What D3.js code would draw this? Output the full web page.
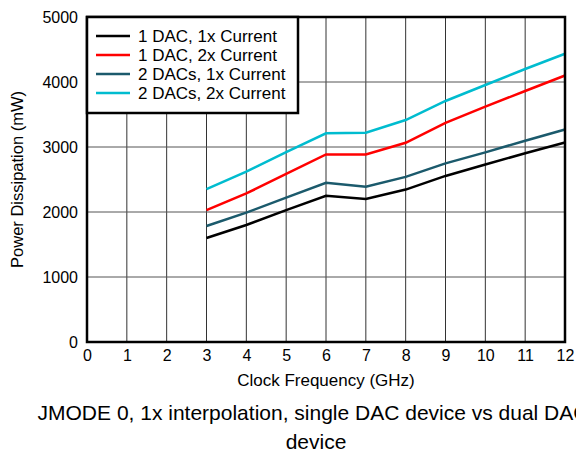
<!DOCTYPE html>
<html>
<head>
<meta charset="utf-8">
<title>Power Dissipation vs Clock Frequency</title>
<style>
  body { margin: 0; background: #fff; }
  text { font-family: "Liberation Sans", Arial, sans-serif; }
</style>
</head>
<body>
<div id="container"></div>
<script src="https://d3js.org/d3.v7.min.js"></script>
<script>
// data
var clockGHz = [3, 4, 5, 6, 7, 8, 9, 10, 11, 12]
var oneDac1x = [1600, 1800, 2030, 2250, 2200, 2345, 2555, 2730, 2905, 3070]
var oneDac2x = [2030, 2285, 2585, 2885, 2885, 3065, 3372, 3620, 3862, 4100]
var twoDac1x = [1785, 1990, 2220, 2450, 2390, 2540, 2748, 2918, 3097, 3270]
var twoDac2x = [2352, 2620, 2920, 3210, 3220, 3415, 3708, 3954, 4200, 4435]
var seriesNames = ['1 DAC, 1x Current', '1 DAC, 2x Current', '2 DACs, 1x Current', '2 DACs, 2x Current']
var xTicks = [0, 1, 2, 3, 4, 5, 6, 7, 8, 9, 10, 11, 12]
var yTicks = [0, 1000, 2000, 3000, 4000, 5000]

var width = 576
var height = 456
// plot box (note: "top" is reserved on window, so keep it in an object)
var plot = { left: 87, right: 565, top: 17, bottom: 342 }

var svg = d3.select('#container')
  .append('svg')
  .attr('width', width)
  .attr('height', height)

var x = d3.scaleLinear().domain([0, 12]).range([plot.left, plot.right])
var y = d3.scaleLinear().domain([0, 5000]).range([plot.bottom, plot.top])

// grid
svg.append('g')
  .selectAll('line')
  .data(xTicks)
  .enter()
  .append('line')
  .attr('x1', d => x(d)).attr('x2', d => x(d))
  .attr('y1', plot.top).attr('y2', plot.bottom)
  .attr('stroke', '#333').attr('stroke-width', 1)

svg.append('g')
  .selectAll('line')
  .data(yTicks)
  .enter()
  .append('line')
  .attr('x1', plot.left).attr('x2', plot.right)
  .attr('y1', d => y(d)).attr('y2', d => y(d))
  .attr('stroke', '#555').attr('stroke-width', 1)

// tick labels
var xAxis = svg.append('g')
  .attr('transform', 'translate(0,' + plot.bottom + ')')
  .call(d3.axisBottom(x).tickValues(xTicks).tickSize(0).tickPadding(8))
xAxis.select('.domain').remove()
xAxis.selectAll('text').attr('font-size', 16).attr('fill', '#000')
  .attr('font-family', '"Liberation Sans", Arial, sans-serif')

var yAxis = svg.append('g')
  .attr('transform', 'translate(' + plot.left + ',0)')
  .call(d3.axisLeft(y).tickValues(yTicks).tickFormat(d3.format('d')).tickSize(0).tickPadding(9))
yAxis.select('.domain').remove()
yAxis.selectAll('text').attr('font-size', 16).attr('fill', '#000')
  .attr('font-family', '"Liberation Sans", Arial, sans-serif')

// lines
var colors = ['#000000', '#ff0000', '#1b5a6c', '#00bccf']
var allSeries = [oneDac1x, oneDac2x, twoDac1x, twoDac2x]
var line = d3.line()
  .x((d, i) => x(clockGHz[i]))
  .y(d => y(d))

svg.append('g')
  .selectAll('path')
  .data(allSeries)
  .enter()
  .append('path')
  .attr('d', line)
  .attr('fill', 'none')
  .attr('stroke', (d, i) => colors[i])
  .attr('stroke-width', 2.5)

// frame
svg.append('rect')
  .attr('x', plot.left).attr('y', plot.top)
  .attr('width', plot.right - plot.left).attr('height', plot.bottom - plot.top)
  .attr('fill', 'none').attr('stroke', '#000').attr('stroke-width', 2.5)

// legend
var legend = svg.append('g')
legend.append('rect')
  .attr('x', plot.left).attr('y', plot.top)
  .attr('width', 211).attr('height', 96)
  .attr('fill', '#fff').attr('stroke', '#000').attr('stroke-width', 2.5)

var items = legend.selectAll('g.item')
  .data(seriesNames)
  .enter()
  .append('g')
  .attr('transform', (d, i) => 'translate(0,' + (36 + i * 19) + ')')
items.append('line')
  .attr('x1', 96).attr('x2', 130)
  .attr('y1', 0).attr('y2', 0)
  .attr('stroke', (d, i) => colors[i]).attr('stroke-width', 2.5)
items.append('text')
  .attr('x', 138).attr('y', 0).attr('dy', '0.35em')
  .attr('font-size', 17)
  .text(d => d)

// titles
svg.append('text')
  .attr('x', (plot.left + plot.right) / 2).attr('y', 386)
  .attr('text-anchor', 'middle').attr('font-size', 17)
  .text('Clock Frequency (GHz)')

svg.append('text')
  .attr('transform', 'translate(23,' + (plot.top + plot.bottom) / 2 + ') rotate(-90)')
  .attr('text-anchor', 'middle').attr('font-size', 16.5)
  .text('Power Dissipation (mW)')

// caption runs past the right edge, as in the original image
svg.append('text')
  .attr('x', 313).attr('y', 420)
  .attr('text-anchor', 'middle').attr('font-size', 21)
  .text('JMODE 0, 1x interpolation, single DAC device vs dual DAC')

svg.append('text')
  .attr('x', 316).attr('y', 449)
  .attr('text-anchor', 'middle').attr('font-size', 21)
  .text('device')
</script>
</body>
</html>
